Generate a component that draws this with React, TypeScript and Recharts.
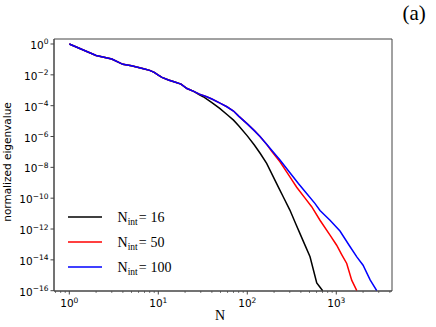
import React from "react";
import { LineChart, Line, XAxis, YAxis, Legend, ReferenceArea } from "recharts";

// eigenvalue spectra (log-log)
const headN = [1, 2, 3, 4, 5, 6, 7, 8, 9, 10, 11, 13, 15, 18, 21, 25];
const headEig = [
  1, 0.18, 0.107, 0.048, 0.039, 0.03, 0.024, 0.0195, 0.0145, 0.0095, 0.0068,
  0.0046, 0.0036, 0.0025, 0.0013, 8.5e-4,
];

const midN = [29, 35, 40, 50, 59, 70, 80, 100, 120, 139];
const midEig = [5.6e-4, 3.8e-4, 2.7e-4, 1.4e-4, 8.5e-5, 4.5e-5, 2.1e-5, 6.6e-6, 2.4e-6, 1e-6];

const tail16N = [29, 32, 40, 49, 60, 70, 80, 100, 120, 140, 165, 196, 225, 254, 301, 350, 391, 450, 507, 560, 603, 650, 703];
const tail16Eig = [
  5e-4, 3.8e-4, 1.55e-4, 6.6e-5, 2.5e-5, 1.15e-5, 5e-6, 1.1e-6, 2.8e-7, 7.9e-8,
  1.8e-8, 2.4e-9, 4.9e-10, 1.2e-10, 1.7e-11, 2.2e-12, 5e-13, 7.8e-14, 1.6e-14,
  1.7e-15, 3.2e-16, 1.8e-16, 1e-16,
];

const tail50N = [165, 188, 233, 300, 359, 450, 529, 656, 850, 1010, 1150, 1310, 1490, 1700];
const tail50Eig = [
  3.1e-7, 1.1e-7, 2.3e-8, 2.5e-9, 5.1e-10, 9.3e-11, 2.8e-11, 3.7e-12, 4e-13,
  8.9e-14, 2.2e-14, 5.8e-15, 4.8e-16, 1e-16,
];

const tail100N = [165, 188, 233, 300, 375, 450, 575, 656, 850, 1100, 1400, 1700, 2000, 2400, 2850];
const tail100Eig = [
  3.2e-7, 1.3e-7, 3e-8, 4.6e-9, 8.9e-10, 2.5e-10, 4.6e-11, 1.6e-11, 3.7e-12,
  7.4e-13, 8.5e-14, 1.55e-14, 4.5e-15, 5e-16, 1e-16,
];

const xMajorTicks = [1, 10, 100, 1000];
const xTickExponents = ["0", "1", "2", "3"];
const xMinorTicks = [
  0.7, 0.8, 0.9, 2, 3, 4, 5, 6, 7, 8, 9, 20, 30, 40, 50, 60, 70, 80, 90,
  200, 300, 400, 500, 600, 700, 800, 900, 2000, 3000, 4000,
];
const yTicks = [1, 1e-2, 1e-4, 1e-6, 1e-8, 1e-10, 1e-12, 1e-14, 1e-16];
const yTickExponents = ["0", "−2", "−4", "−6", "−8", "−10", "−12", "−14", "−16"];

const seriesNames = ["16", "50", "100"];
const seriesColors = ["#000000", "#ff0000", "#0000ff"];

const X_MIN = 0.673;
const X_MAX = 4227;
const Y_MIN = 0.955e-16;
const Y_MAX = 2.11;

const toPoints = (ns: number[], vs: number[]) => ns.map((n, i) => ({ n, v: vs[i] }));

const data16 = toPoints([...headN, ...tail16N], [...headEig, ...tail16Eig]);
const data50 = toPoints([...headN, ...midN, ...tail50N], [...headEig, ...midEig, ...tail50Eig]);
const data100 = toPoints([...headN, ...midN, ...tail100N], [...headEig, ...midEig, ...tail100Eig]);
const allData = [data16, data50, data100];

const AXIS = "#444";
const SANS = "DejaVu Sans";
const SERIF = "Liberation Serif, Times New Roman, serif";

const findIdx = (arr: number[], v: number) =>
  arr.findIndex((t) => Math.abs(t - v) <= Math.abs(t) * 1e-6);

const XTick = (props: any) => {
  const { x, y, payload } = props;
  const i = findIdx(xMajorTicks, payload.value);
  const major = i >= 0;
  return (
    <g>
      <line x1={x} x2={x} y1={y} y2={y + (major ? 3.5 : 2)} stroke={AXIS} strokeWidth={major ? 1 : 0.7} />
      {major && (
        <text x={x} y={y + 16} textAnchor="middle" fontFamily={SANS} fontSize={10.5} fill="#000">
          10
          <tspan dy={-4.5} fontSize={7.5}>{xTickExponents[i]}</tspan>
        </text>
      )}
    </g>
  );
};

const YTick = (props: any) => {
  const { x, y, payload } = props;
  const i = findIdx(yTicks, payload.value);
  if (i < 0) return <g />;
  return (
    <g>
      <line x1={x - 3.5} x2={x} y1={y} y2={y} stroke={AXIS} />
      <text x={x - 5.5} y={y + 5} textAnchor="end" fontFamily={SANS} fontSize={10.5} fill="#000">
        10
        <tspan dy={-4.5} fontSize={7.5}>{yTickExponents[i]}</tspan>
      </text>
    </g>
  );
};

const YLabel = () => (
  <text transform="translate(10.5,162) rotate(-90)" textAnchor="middle" fontFamily={SANS} fontSize={10.5} fill="#000">
    normalized eigenvalue
  </text>
);

const XLabel = () => (
  <text x={220} y={319.5} textAnchor="middle" fontFamily={SERIF} fontSize={14} fill="#000">
    N
  </text>
);

const LegendBox = () => (
  <svg width={130} height={75} style={{ display: "block" }}>
    {seriesNames.map((name, i) => {
      const cy = 12 + i * 25;
      return (
        <g key={name}>
          <line x1={8} x2={42} y1={cy} y2={cy} stroke={seriesColors[i]} strokeWidth={1.5} />
          <text x={57.5} y={cy + 4.5} fontFamily={SERIF} fontSize={14} fill="#000">
            N
            <tspan dy={3} fontSize={9.5}>int</tspan>
            <tspan dy={-3} dx={1}>=</tspan>
            <tspan dx={4}>{name}</tspan>
          </text>
        </g>
      );
    })}
  </svg>
);

export default function App() {
  return (
    <div style={{ position: "absolute", left: 0, top: 0, width: 436, height: 327, background: "#fff" }}>
      <LineChart width={436} height={327} margin={{ top: 39, right: 44, bottom: 0, left: 0 }}>
        <XAxis
          dataKey="n"
          type="number"
          scale="log"
          domain={[X_MIN, X_MAX]}
          allowDataOverflow
          ticks={[...xMajorTicks, ...xMinorTicks]}
          interval={0}
          tick={<XTick />}
          tickLine={false}
          tickSize={0}
          tickMargin={0}
          height={36}
          axisLine={{ stroke: AXIS }}
          label={<XLabel />}
        />
        <YAxis
          dataKey="v"
          type="number"
          scale="log"
          domain={[Y_MIN, Y_MAX]}
          allowDataOverflow
          ticks={yTicks}
          interval={0}
          tick={<YTick />}
          tickLine={false}
          tickSize={0}
          tickMargin={0}
          width={54}
          axisLine={{ stroke: AXIS }}
          label={<YLabel />}
        />
        <ReferenceArea x1={X_MIN} x2={X_MAX} y1={Y_MIN} y2={Y_MAX} fill="none" stroke={AXIS} strokeWidth={1} ifOverflow="visible" />
        {allData.map((d, i) => (
          <Line
            key={seriesNames[i]}
            data={d}
            dataKey="v"
            type="linear"
            stroke={seriesColors[i]}
            strokeWidth={1.5}
            dot={false}
            isAnimationActive={false}
          />
        ))}
        <Legend
          layout="vertical"
          align="center"
          verticalAlign="middle"
          content={() => <LegendBox />}
          wrapperStyle={{ left: 60, top: 205, width: 130, height: 75 }}
        />
      </LineChart>
      <div
        style={{
          position: "absolute",
          left: 402.5,
          top: 0,
          fontFamily: SERIF,
          fontSize: 21,
          lineHeight: "26px",
          color: "#000",
        }}
      >
        (a)
      </div>
    </div>
  );
}
